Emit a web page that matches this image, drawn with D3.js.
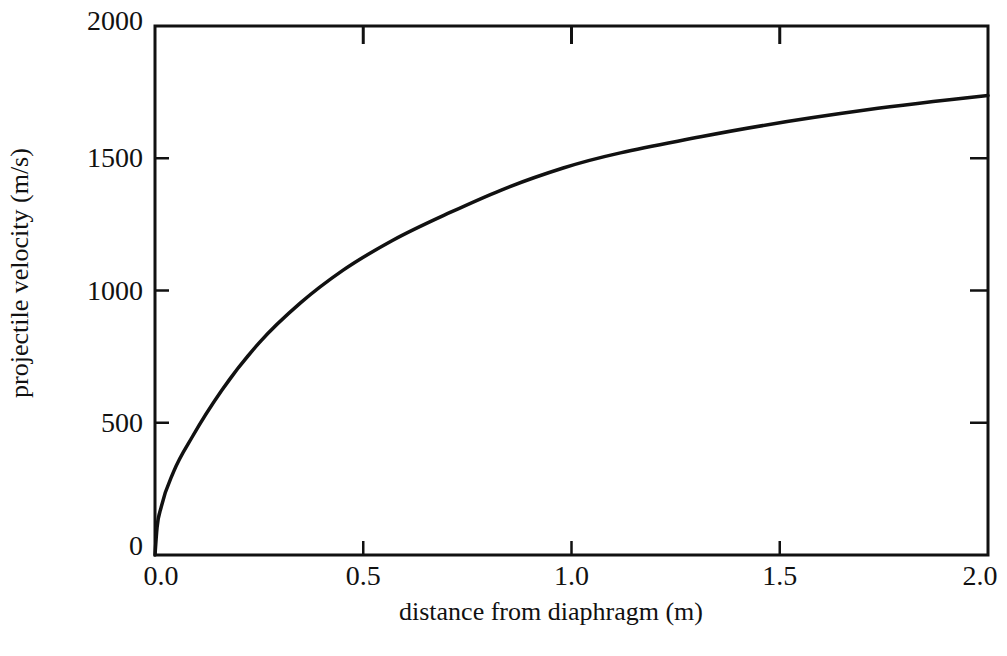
<!DOCTYPE html>
<html>
  <head>
    <meta charset="utf-8" />
    <title>projectile velocity vs distance</title>
    <script src="https://d3js.org/d3.v7.min.js"></script>
    <style>
      body { margin: 0; background: #fff; }
      text { font-family: "Liberation Serif", "DejaVu Serif", serif; fill: #111; }
    </style>
  </head>
  <body>
    <div id="chart"></div>
    <script>
      // values
      var distance = [0, 0.005, 0.015, 0.045, 0.09, 0.16, 0.25, 0.35, 0.45, 0.57, 0.71, 0.83, 0.98, 1.31, 1.71, 2.0];
      var velocity = [0, 105, 182, 316, 448, 622, 802, 954, 1075, 1189, 1296, 1379, 1463, 1581, 1683, 1737];
      var xTicks = [0, 0.5, 1.0, 1.5, 2.0];
      var yTicks = [0, 500, 1000, 1500, 2000];

      var width = 1007;
      var height = 656;
      var m = { left: 155, right: 988, top: 26, bottom: 555 };

      var svg = d3
        .select("#chart")
        .append("svg")
        .attr("width", width)
        .attr("height", height);

      var x = d3.scaleLinear().domain([0, 2]).range([m.left, m.right]);
      var y = d3.scaleLinear().domain([0, 2000]).range([m.bottom, m.top]);

      // frame
      svg
        .append("rect")
        .attr("x", m.left)
        .attr("y", m.top)
        .attr("width", m.right - m.left)
        .attr("height", m.bottom - m.top)
        .attr("fill", "none")
        .attr("stroke", "#111")
        .attr("stroke-width", 3);

      // inward ticks on all four sides
      var tickLen = 14;
      var inner = xTicks.slice(1, -1);
      svg.append("g").selectAll("line").data(inner).enter().append("line")
        .attr("x1", function (d) { return x(d); })
        .attr("x2", function (d) { return x(d); })
        .attr("y1", m.top).attr("y2", m.top + tickLen + 4)
        .attr("stroke", "#111").attr("stroke-width", 3);
      svg.append("g").selectAll("line").data(inner).enter().append("line")
        .attr("x1", function (d) { return x(d); })
        .attr("x2", function (d) { return x(d); })
        .attr("y1", m.bottom).attr("y2", m.bottom - tickLen)
        .attr("stroke", "#111").attr("stroke-width", 2.5);

      var innerY = yTicks.slice(1, -1);
      svg.append("g").selectAll("line").data(innerY).enter().append("line")
        .attr("x1", m.left).attr("x2", m.left + tickLen)
        .attr("y1", function (d) { return y(d); })
        .attr("y2", function (d) { return y(d); })
        .attr("stroke", "#111").attr("stroke-width", 2.5);
      svg.append("g").selectAll("line").data(innerY).enter().append("line")
        .attr("x1", m.right).attr("x2", m.right - tickLen - 4)
        .attr("y1", function (d) { return y(d); })
        .attr("y2", function (d) { return y(d); })
        .attr("stroke", "#111").attr("stroke-width", 2.5);

      // tick labels
      svg.append("g").selectAll("text").data(xTicks).enter().append("text")
        .attr("x", function (d) { return x(d) + (d === 0 ? 6 : d === 2 ? -8 : 0); })
        .attr("y", 585)
        .attr("text-anchor", "middle")
        .attr("font-size", 28)
        .text(function (d) { return d3.format(".1f")(d); });

      svg.append("g").selectAll("text").data(yTicks).enter().append("text")
        .attr("x", 143)
        .attr("y", function (d) { return y(d) + (d === 0 ? 0 : d === 2000 ? 4 : 9); })
        .attr("text-anchor", "end")
        .attr("font-size", 28)
        .text(function (d) { return d; });

      // axis titles
      svg.append("text")
        .attr("x", 551)
        .attr("y", 620)
        .attr("text-anchor", "middle")
        .attr("font-size", 26)
        .text("distance from diaphragm (m)");

      svg.append("text")
        .attr("transform", "translate(28," + 273 + ") rotate(-90)")
        .attr("text-anchor", "middle")
        .attr("font-size", 26)
        .text("projectile velocity (m/s)");

      // the curve
      var points = distance.map(function (d, i) { return [d, velocity[i]]; });
      var line = d3
        .line()
        .x(function (d) { return x(d[0]); })
        .y(function (d) { return y(d[1]); })
        .curve(d3.curveMonotoneX);

      svg.append("path")
        .datum(points)
        .attr("d", line)
        .attr("fill", "none")
        .attr("stroke", "#111")
        .attr("stroke-width", 3.5)
        .attr("stroke-linecap", "round");
    </script>
  </body>
</html>
